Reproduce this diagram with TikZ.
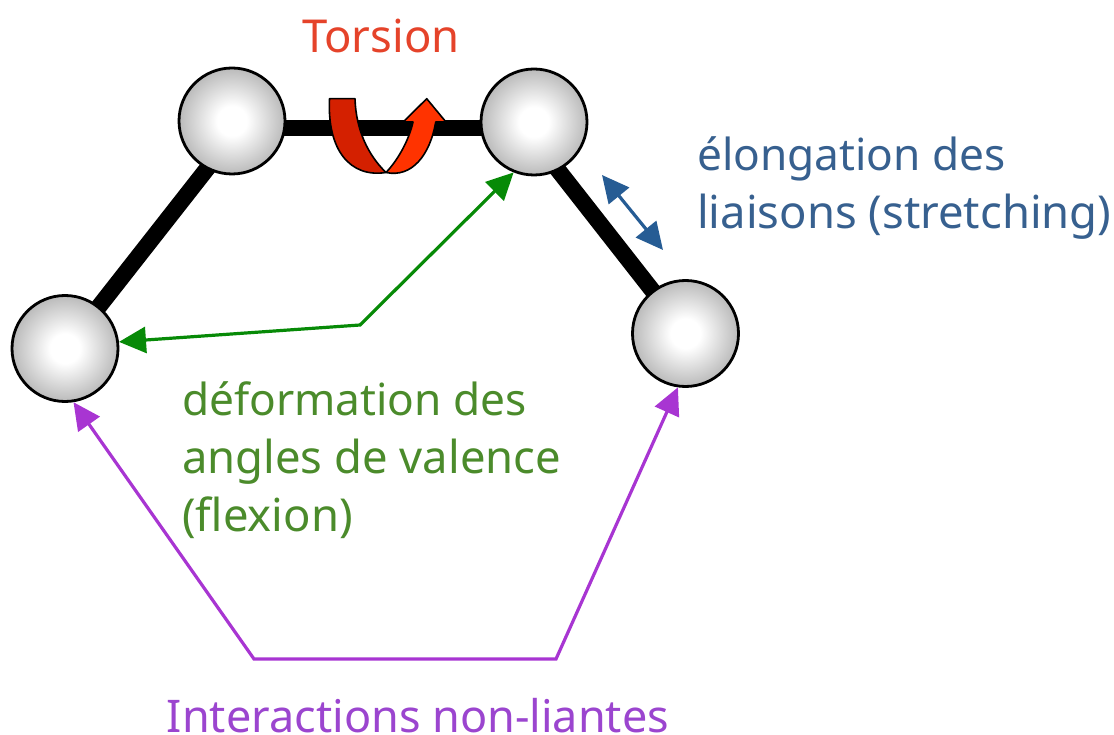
\documentclass[tikz,border=0pt]{standalone}
\usepackage{fontspec}
\setmainfont{Noto Sans}
\usetikzlibrary{arrows.meta}
\pgfdeclareradialshading{atomball}{\pgfpointorigin}{color(0bp)=(white); color(7bp)=(white); color(25bp)=(black!27); color(50bp)=(black!27)}
\definecolor{torsionred}{HTML}{E5432A}
\definecolor{stretchblue}{HTML}{265C94}
\definecolor{stretchtext}{HTML}{37608F}
\definecolor{flexgreen}{HTML}{078A07}
\definecolor{flextext}{HTML}{4B8B2B}
\definecolor{nonbond}{HTML}{A835D2}
\definecolor{nonbondtext}{HTML}{9B45CF}
\definecolor{banddark}{HTML}{D42000}
\definecolor{bandlight}{HTML}{FF3300}
\newcommand{\tightline}[1]{{\fontsize{44.2}{58}\selectfont #1}}
\begin{document}
\begin{tikzpicture}[x=1pt, y=-1pt,
  atom/.style={circle, draw=black, line width=2.8pt, minimum size=106pt, inner sep=0pt, shading=atomball},
  bond/.style={line width=16.5pt, black},
  band/.style={draw=black, line width=1.6pt, line join=round},
  bothtips/.style={line width=3.2pt, {Triangle[length=27pt, width=26pt]}-{Triangle[length=27pt, width=26pt]}},
  label/.style={inner sep=0pt, align=left, font=\fontsize{45.4}{58}\selectfont}]
\useasboundingbox (0,0) rectangle (1114,735);
% bonds first, the atoms go over them
\coordinate (ca) at (232,121);
\coordinate (cb) at (534,122);
\coordinate (cc) at (65,348.5);
\coordinate (cd) at (685.5,333.5);
\coordinate (bondat) at (217,156);
\coordinate (bondct) at (88,320.5);
\coordinate (bondal) at (250,128);
\coordinate (bondbl) at (520,128);
\coordinate (bondbd) at (550.2,160);
\coordinate (bonddb) at (660,300.2);
\draw[bond] (bondct) -- (bondat);
\draw[bond] (bondal) -- (bondbl);
\draw[bond] (bondbd) -- (bonddb);
\node[atom] (atoma) at (ca) {};
\node[atom] (atomb) at (cb) {};
\node[atom] (atomc) at (cc) {};
\node[atom] (atomd) at (cd) {};
% torsion
\draw[band, fill=banddark] (329.5,98.7) -- (355,98.7)
  .. controls (356,130) and (368,155) .. (386,172.5)
  .. controls (350,178) and (327,150) .. cycle;
\draw[band, fill=bandlight] (386,172.5)
  .. controls (398,160) and (409,140) .. (413,122) -- (403.3,122) -- (426.7,98.7) -- (446,122) -- (435.7,122)
  .. controls (430,155) and (412,178) .. cycle;
% arrows
\coordinate (flexbend) at (360,325);
\coordinate (nbleft) at (254,659);
\coordinate (nbright) at (556,659);
\coordinate (stretchup) at (602,175);
\coordinate (stretchdown) at (663,250);
\draw[bothtips, flexgreen] (atomc.7) -- (flexbend) -- (atomb.-112);
\draw[bothtips, nonbond] (atomc.-81) -- (nbleft) -- (nbright) -- (atomd.-98);
\draw[bothtips, stretchblue] (stretchup) -- (stretchdown);
% labels
\node[label, text=torsionred, anchor=center] (torsion) at (381,36) {Torsion};
\node[label, text=stretchtext, anchor=west] (stretch) at (697,188) {\tightline{élongation des}\\liaisons (stretching)};
\node[label, text=flextext, anchor=west] (flex) at (182,460) {\tightline{déformation des}\\angles de valence\\(flexion)};
\node[label, text=nonbondtext, anchor=base, font=\fontsize{45}{58}\selectfont] (nonbonded) at (418,732) {Interactions non-liantes};
\end{tikzpicture}
\end{document}
